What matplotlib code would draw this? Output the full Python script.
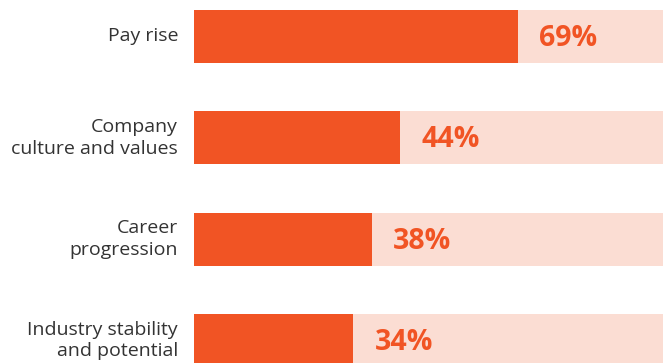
import matplotlib
matplotlib.use("Agg")
import matplotlib.pyplot as plt
from matplotlib import transforms

categories = [
    "Pay rise",
    "Company\nculture and values",
    "Career\nprogression",
    "Industry stability\nand potential",
]
values = [69, 44, 38, 34]
full_scale = 100

bar_color = "#F15424"
track_color = "#FBDDD3"
text_color = "#333333"

fig = plt.figure(figsize=(6.63, 3.63), dpi=100)
ax = fig.add_axes([194 / 663, 0, 1 - 194 / 663, 1])

pos = list(range(len(categories)))
bar_h = 0.523

ax.barh(pos, [full_scale] * len(values), height=bar_h, color=track_color, zorder=1)
ax.barh(pos, values, height=bar_h, color=bar_color, zorder=2)

ax.set_xlim(0, full_scale)
ax.set_ylim(3.222, -0.36)
ax.axis("off")

# value labels just past the end of each bar
offset = transforms.offset_copy(ax.transData, fig=fig, x=21, y=-2, units="dots")
for p, v in zip(pos, values):
    ax.text(v, p, f"{v}%", transform=offset, ha="left", va="center",
            fontsize=20.5, fontweight="bold", color=bar_color,
            family=["Open Sans", "DejaVu Sans"], zorder=3)

# category labels, right-aligned left of the bars
lab = transforms.offset_copy(ax.transData, fig=fig, x=-16, y=0, units="dots")
for p, c in zip(pos, categories):
    ax.text(0, p, c, transform=lab, ha="right", va="center",
            fontsize=14, color=text_color, linespacing=1.25,
            family=["Open Sans", "DejaVu Sans"])

fig.savefig("out.png", dpi=100)
